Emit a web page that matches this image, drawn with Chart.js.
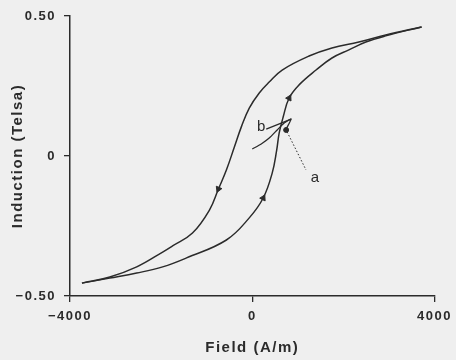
<!DOCTYPE html>
<html>
<head>
<meta charset="utf-8">
<script src="https://cdn.jsdelivr.net/npm/chart.js@4/dist/chart.umd.min.js"></script>
<style>
  html, body { margin: 0; padding: 0; background: #efefef; }
  #wrap { width: 456px; height: 360px; }
</style>
</head>
<body>
<div id="wrap"><canvas id="loopChart" width="456" height="360"></canvas></div>
<script>
// descending branch (field going from +max to -max)
const descField = [3716, 2929, 2339, 1749, 1246, 656, 372, 153, -66, -240, -393, -568, -743, -940, -1312, -1749, -1967, -2536, -3126, -3738];
const descInduction = [0.461, 0.432, 0.407, 0.386, 0.357, 0.307, 0.264, 0.225, 0.171, 0.104, 0.032, -0.050, -0.118, -0.193, -0.275, -0.321, -0.343, -0.396, -0.432, -0.454];

// ascending branch (field going from -max to +max)
const ascField = [-3738, -3126, -2536, -1967, -1443, -568, -66, 240, 437, 536, 590, 678, 809, 1027, 1399, 1749, 2120, 2492, 2929, 3716];
const ascInduction = [-0.454, -0.436, -0.418, -0.396, -0.364, -0.300, -0.221, -0.150, -0.061, 0.021, 0.082, 0.139, 0.207, 0.254, 0.307, 0.350, 0.379, 0.407, 0.429, 0.461];

// minor loop b
const minorField = [0, 197, 372, 547, 700, 853, 743];
const minorInduction = [0.025, 0.043, 0.064, 0.093, 0.118, 0.132, 0.096];
const bLeadField = [306, 853];
const bLeadInduction = [0.096, 0.132];

// direction arrows on the main loop
const arrowField = [-743, 240, 809];
const arrowInduction = [-0.118, -0.150, 0.207];
const arrowAngle = [203, 27, 28];

// point a and its dotted leader
const pointField = [743];
const pointInduction = [0.093];
const leaderField = [765, 1180];
const leaderInduction = [0.086, -0.050];

// text labels
const labelText = ["a", "b"];
const labelField = [1377, 197];
const labelInduction = [-0.079, 0.104];

const xTicks = [-4000, 0, 4000];
const yTicks = [-0.5, 0, 0.5];

const ink = "#2b2b2b";
const fontFamily = "'Liberation Sans', Arial, sans-serif";

function pts(xs, ys) {
    return xs.map((x, i) => ({ x: x, y: ys[i] }));
}

// the original lettering is widely spaced
const spacing = {
    id: "spacing",
    beforeDraw(chart) {
        chart.ctx.letterSpacing = "1.5px";
    }
};

const textLabels = {
    id: "textLabels",
    afterDatasetsDraw(chart) {
        const ctx = chart.ctx;
        const xs = chart.scales.x;
        const ys = chart.scales.y;
        ctx.save();
        ctx.letterSpacing = "0px";
        ctx.fillStyle = ink;
        ctx.font = "15px " + fontFamily;
        ctx.textAlign = "center";
        ctx.textBaseline = "middle";
        labelText.forEach((t, i) => {
            ctx.fillText(t, xs.getPixelForValue(labelField[i]), ys.getPixelForValue(labelInduction[i]));
        });
        ctx.restore();
    }
};

new Chart(document.getElementById("loopChart"), {
    type: "scatter",
    data: {
        datasets: [
            { data: pts(descField, descInduction), showLine: true, borderColor: ink, borderWidth: 1.5, pointRadius: 0, tension: 0.4 },
            { data: pts(ascField, ascInduction), showLine: true, borderColor: ink, borderWidth: 1.5, pointRadius: 0, tension: 0.4 },
            { data: pts(minorField, minorInduction), showLine: true, borderColor: ink, borderWidth: 1.3, pointRadius: 0, tension: 0.2 },
            { data: pts(bLeadField, bLeadInduction), showLine: true, borderColor: ink, borderWidth: 1.3, pointRadius: 0 },
            { data: pts(leaderField, leaderInduction), showLine: true, borderColor: ink, borderWidth: 1, borderDash: [1.5, 2], pointRadius: 0 },
            { data: pts(arrowField, arrowInduction), showLine: false, pointStyle: "triangle", rotation: arrowAngle, pointRadius: 3.5, backgroundColor: ink, borderColor: ink, borderWidth: 1 },
            { data: pts(pointField, pointInduction), showLine: false, pointRadius: 2.5, backgroundColor: ink, borderColor: ink }
        ]
    },
    options: {
        responsive: false,
        animation: false,
        layout: { padding: { top: 16, right: 20, left: 0, bottom: 0 } },
        plugins: { legend: { display: false }, tooltip: { enabled: false } },
        scales: {
            x: {
                type: "linear",
                min: -4000,
                max: 4000,
                afterBuildTicks: s => { s.ticks = xTicks.map(v => ({ value: v })); },
                afterFit: s => { s.height = 64; },
                grid: { display: true, drawOnChartArea: false, drawTicks: true, tickLength: 6, color: ink, lineWidth: 1.3 },
                border: { display: true, color: ink, width: 1.5 },
                ticks: { color: ink, padding: 7, maxRotation: 0, font: { family: fontFamily, size: 13, weight: "bold" }, callback: v => (v < 0 ? "\u2212" + Math.abs(v) : String(v)) },
                title: { display: true, text: "Field (A/m)", color: ink, font: { family: fontFamily, size: 15, weight: "bold" }, padding: { top: 0, bottom: 3 } }
            },
            y: {
                type: "linear",
                min: -0.5,
                max: 0.5,
                afterBuildTicks: s => { s.ticks = yTicks.map(v => ({ value: v })); },
                afterFit: s => { s.width = 70; },
                grid: { display: true, drawOnChartArea: false, drawTicks: true, tickLength: 6, color: ink, lineWidth: 1.3 },
                border: { display: true, color: ink, width: 1.5 },
                ticks: { color: ink, padding: 8, font: { family: fontFamily, size: 13, weight: "bold" }, callback: v => (v === 0 ? "0" : (v < 0 ? "\u2212" : "") + Math.abs(v).toFixed(2)) },
                title: { display: true, text: "Induction (Telsa)", color: ink, font: { family: fontFamily, size: 15, weight: "bold" }, padding: { top: 9, bottom: 0 } }
            }
        }
    },
    plugins: [spacing, textLabels]
});
</script>
</body>
</html>
